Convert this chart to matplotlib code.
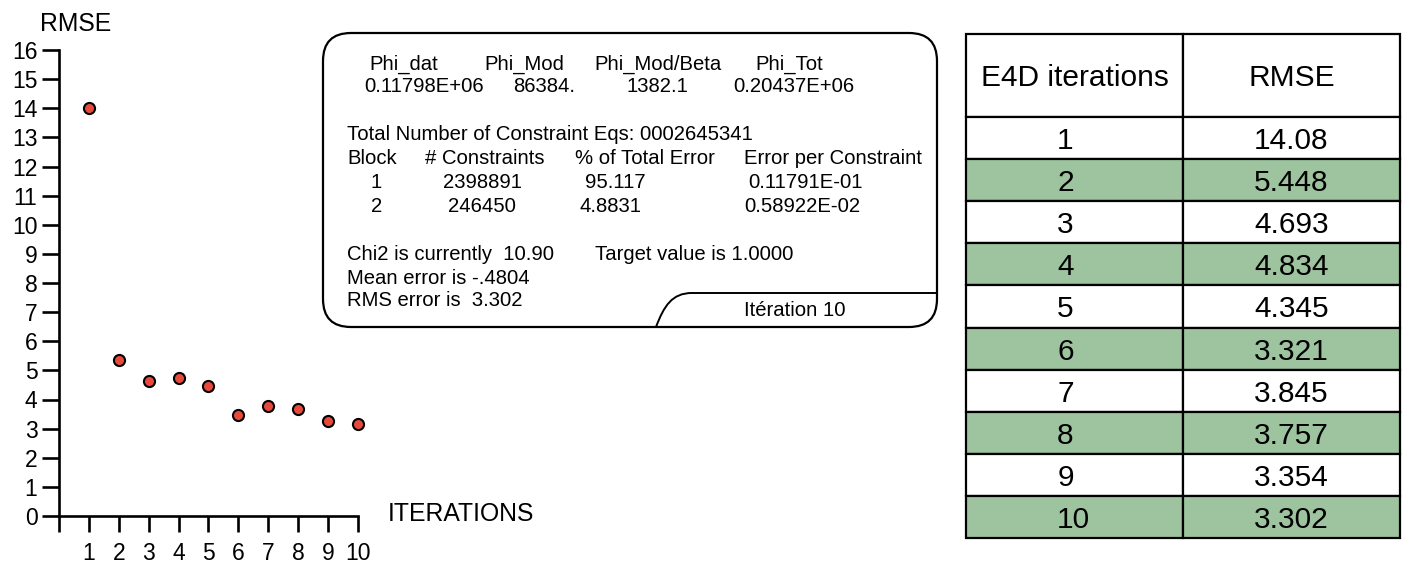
""" RMSE by E4D inversion iteration: scatter, solver log box and table """

import matplotlib
import matplotlib.pyplot as plt
from matplotlib.patches import FancyBboxPatch, PathPatch
from matplotlib.path import Path

matplotlib.use('Agg')
plt.rcParams['font.family'] = ['Liberation Sans', 'DejaVu Sans']

W, H = 1405, 562

# scatter data (as drawn in the plot)
iterations = [1, 2, 3, 4, 5, 6, 7, 8, 9, 10]
rmse_plot = [14.0, 5.36, 4.65, 4.75, 4.45, 3.46, 3.76, 3.67, 3.26, 3.16]
y_ticks = list(range(0, 17))
x_ticks = list(range(0, 11))
x_tick_labels = [""] + [str(i) for i in range(1, 11)]

# table data
table_header = ["E4D iterations", "RMSE"]
table_iter = ["1", "2", "3", "4", "5", "6", "7", "8", "9", "10"]
table_rmse = ["14.08", "5.448", "4.693", "4.834", "4.345",
              "3.321", "3.845", "3.757", "3.354", "3.302"]

# solver log lines
phi_names = ["Phi_dat", "Phi_Mod", "Phi_Mod/Beta", "Phi_Tot"]
phi_values = ["0.11798E+06", "86384.", "1382.1", "0.20437E+06"]
total_line = "Total Number of Constraint Eqs: 0002645341"
block_header = ["Block", "# Constraints", "% of Total Error", "Error per Constraint"]
block_rows = [["1", "2398891", "95.117", "0.11791E-01"],
              ["2", "246450", "4.8831", "0.58922E-02"]]
chi_line = "Chi2 is currently  10.90"
target_line = "Target value is 1.0000"
mean_line = "Mean error is -.4804"
rms_line = "RMS error is  3.302"
tab_label = "Itération 10"

RED = "#e8493d"
GREEN = "#9dc49f"

fig = plt.figure(figsize=(W / 100, H / 100), dpi=100)
fig.patch.set_facecolor("white")

# ---------- scatter ----------
x0, x1, y0, y1 = 59, 358, 516, 50
ax = fig.add_axes([x0 / W, 1 - y0 / H, (x1 - x0) / W, (y0 - y1) / H])
ax.scatter(iterations, rmse_plot, s=64, color=RED, edgecolor="black",
           linewidth=1.5, zorder=3, clip_on=False)
ax.set_xlim(0, 10)
ax.set_ylim(0, 16)
ax.set_xticks(x_ticks)
ax.set_xticklabels(x_tick_labels, fontsize=16.5)
ax.set_yticks(y_ticks)
ax.set_yticklabels([str(v) for v in y_ticks], fontsize=16.5)
ax.tick_params(axis="y", length=12, width=1.9, pad=3.5)
ax.tick_params(axis="x", length=11.5, width=1.9, pad=7)
for side in ["top", "right"]:
    ax.spines[side].set_visible(False)
for side in ["left", "bottom"]:
    ax.spines[side].set_linewidth(1.9)
ax.patch.set_alpha(0)

# ---------- overlay in pixel coordinates ----------
ov = fig.add_axes([0, 0, 1, 1], zorder=-1)
ov.set_xlim(0, W)
ov.set_ylim(H, 0)
ov.axis("off")

ov.text(40, 24, "RMSE", fontsize=17.8, ha="left", va="center")
ov.text(388, 514, "ITERATIONS", fontsize=17.8, ha="left", va="center")

# rounded log box
box = FancyBboxPatch((323, 33), 614, 294, boxstyle="round,pad=0,rounding_size=28",
                     facecolor="white", edgecolor="black", linewidth=1.6)
ov.add_patch(box)
tab = Path([(656, 327), (664, 306), (672, 293), (692, 293), (937, 293)],
           [Path.MOVETO, Path.CURVE4, Path.CURVE4, Path.CURVE4, Path.LINETO])
ov.add_patch(PathPatch(tab, facecolor="none", edgecolor="black", linewidth=1.4))

fs = 14.6
kw = dict(fontsize=fs, ha="left", va="center_baseline")
for name, x in zip(phi_names, [369, 484, 594, 755]):
    ov.text(x, 62, name, **kw)
for val, x in zip(phi_values, [364, 513, 626, 733]):
    ov.text(x, 85, val, **kw)
ov.text(347, 133, total_line, **kw)
for name, x in zip(block_header, [347, 425, 575, 744]):
    ov.text(x, 157, name, **kw)
col_x = [[371, 443, 585, 748], [371, 448, 579, 744]]
for row, xs, y in zip(block_rows, col_x, [181, 204]):
    for val, x in zip(row, xs):
        ov.text(x, y, val, **kw)
ov.text(347, 253, chi_line, **kw)
ov.text(595, 253, target_line, **kw)
ov.text(347, 276, mean_line, **kw)
ov.text(347, 299, rms_line, **kw)
ov.text(795, 309, tab_label, fontsize=fs, ha="center", va="center_baseline")

# ---------- table ----------
tl, tr, tt, tb = 966, 1400, 34, 538
tax = fig.add_axes([tl / W, 1 - tb / H, (tr - tl) / W, (tb - tt) / H])
tax.axis("off")
cells = [[a, b] for a, b in zip(table_iter, table_rmse)]
table = tax.table(cellText=cells, colLabels=table_header, cellLoc="center",
                  bbox=[0, 0, 1, 1])
table.auto_set_font_size(False)
for (r, c), cell in table.get_celld().items():
    cell.set_height(83 if r == 0 else 42.1)
    cell.set_width(1)
    cell.set_edgecolor("black")
    cell.set_linewidth(1.6)
    cell.get_text().set_fontsize(21.5)
    cell.get_text().set_va("center_baseline")
    if r > 0 and r % 2 == 0:
        cell.set_facecolor(GREEN)
    if r > 0 and c == 0:
        cell.get_text().set_ha("left")
        cell.PAD = 0.42

fig.savefig("out.png", dpi=100, facecolor="white")
